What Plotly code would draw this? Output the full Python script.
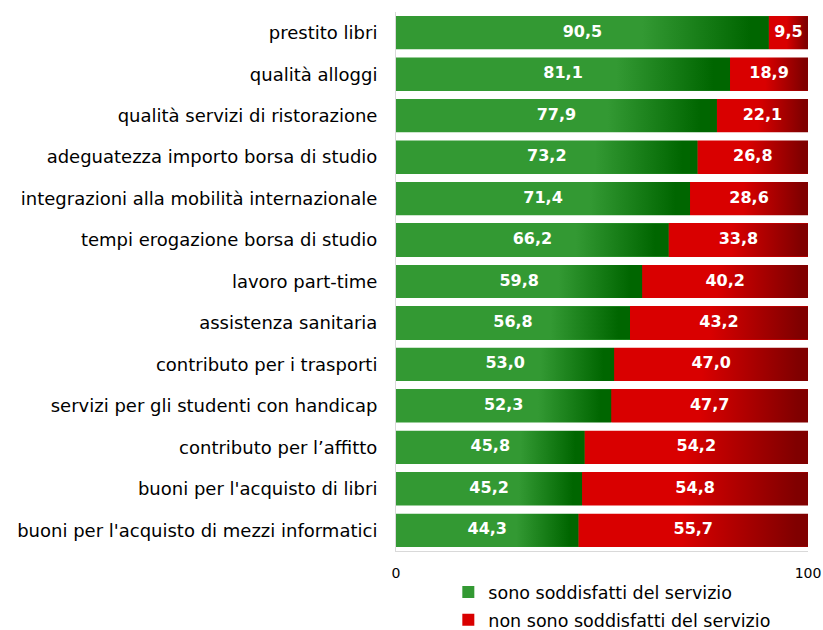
import plotly.graph_objects as go

categories = [
    "prestito libri",
    "qualità alloggi",
    "qualità servizi di ristorazione",
    "adeguatezza importo borsa di studio",
    "integrazioni alla mobilità internazionale",
    "tempi erogazione borsa di studio",
    "lavoro part-time",
    "assistenza sanitaria",
    "contributo per i trasporti",
    "servizi per gli studenti con handicap",
    "contributo per l’affitto",
    "buoni per l'acquisto di libri",
    "buoni per l'acquisto di mezzi informatici",
]
soddisfatti = [90.5, 81.1, 77.9, 73.2, 71.4, 66.2, 59.8, 56.8, 53.0, 52.3, 45.8, 45.2, 44.3]
non_soddisfatti = [9.5, 18.9, 22.1, 26.8, 28.6, 33.8, 40.2, 43.2, 47.0, 47.7, 54.2, 54.8, 55.7]
series_names = ["sono soddisfatti del servizio", "non sono soddisfatti del servizio"]
x_ticks = [0, 100]

GREEN, DGREEN = "#339933", "#006600"
RED, DRED = "#D90000", "#800000"
FONT = "DejaVu Sans"
BW = 0.8

pos = list(range(len(categories)))
fmt = lambda v: f"{v:.1f}".replace(".", ",")

fig = go.Figure()
fig.add_trace(go.Bar(y=pos, x=soddisfatti, orientation="h", name=series_names[0], legendgroup="g1",
                     marker=dict(color=GREEN, line=dict(width=0)), width=BW, hoverinfo="skip"))
fig.add_trace(go.Bar(y=pos, x=non_soddisfatti, orientation="h", name=series_names[1], legendgroup="g2",
                     marker=dict(color=RED, line=dict(width=0)), width=BW, hoverinfo="skip"))

# gradient overlays
for i, (s, n) in enumerate(zip(soddisfatti, non_soddisfatti)):
    for x0, x1, c0, c1, a, b in [(0, s, GREEN, DGREEN, 0.66, 0.95), (s, s + n, RED, DRED, 0.45, 0.95)]:
        fig.add_trace(go.Scatter(
            x=[x0, x1, x1, x0, x0],
            y=[i - BW / 2, i - BW / 2, i + BW / 2, i + BW / 2, i - BW / 2],
            mode="lines", fill="toself", line=dict(width=0),
            fillgradient=dict(type="horizontal", start=x0, stop=x1,
                              colorscale=[[0, c0], [a, c0], [b, c1], [1, c1]]),
            showlegend=False, hoverinfo="skip"))

lbl_font = dict(family=FONT, size=16, color="white")
fig.add_trace(go.Scatter(x=[s / 2 for s in soddisfatti], y=pos, mode="text",
                         text=[f"<b>{fmt(v)}</b>" for v in soddisfatti],
                         textfont=lbl_font, showlegend=False, hoverinfo="skip"))
fig.add_trace(go.Scatter(x=[s + n / 2 for s, n in zip(soddisfatti, non_soddisfatti)], y=pos, mode="text",
                         text=[f"<b>{fmt(v)}</b>" for v in non_soddisfatti],
                         textfont=lbl_font, showlegend=False, hoverinfo="skip"))

fig.update_layout(
    width=823, height=630,
    margin=dict(l=396, r=15, t=12, b=79, autoexpand=False),
    barmode="stack",
    plot_bgcolor="white", paper_bgcolor="white",
    font=dict(family=FONT, color="black"),
    xaxis=dict(range=[0, 100], tickvals=x_ticks, ticktext=[str(t) for t in x_ticks],
               showgrid=False, zeroline=False, showline=True, linecolor="#D9D9D9", linewidth=1,
               ticks="inside", ticklen=6, tickcolor="#D9D9D9", automargin=False,
               ticklabelstandoff=9,
               tickfont=dict(family=FONT, size=14, color="black")),
    yaxis=dict(range=[len(categories) - 0.5, -0.5], tickvals=pos, ticktext=categories,
               showgrid=False, zeroline=False, showline=True, linecolor="#D9D9D9", linewidth=1,
               ticks="", ticklabelstandoff=14, automargin=False,
               tickfont=dict(family=FONT, size=18, color="black")),
    legend=dict(x=0.127, y=-0.043, xanchor="left", yanchor="top",
                font=dict(family=FONT, size=17.5, color="black"),
                traceorder="grouped", tracegroupgap=2, bgcolor="rgba(0,0,0,0)"),
    showlegend=True,
)

fig.write_html("out.html", config={"displayModeBar": False},
               post_script="document.body.style.margin='0px';document.body.style.overflow='hidden';")
